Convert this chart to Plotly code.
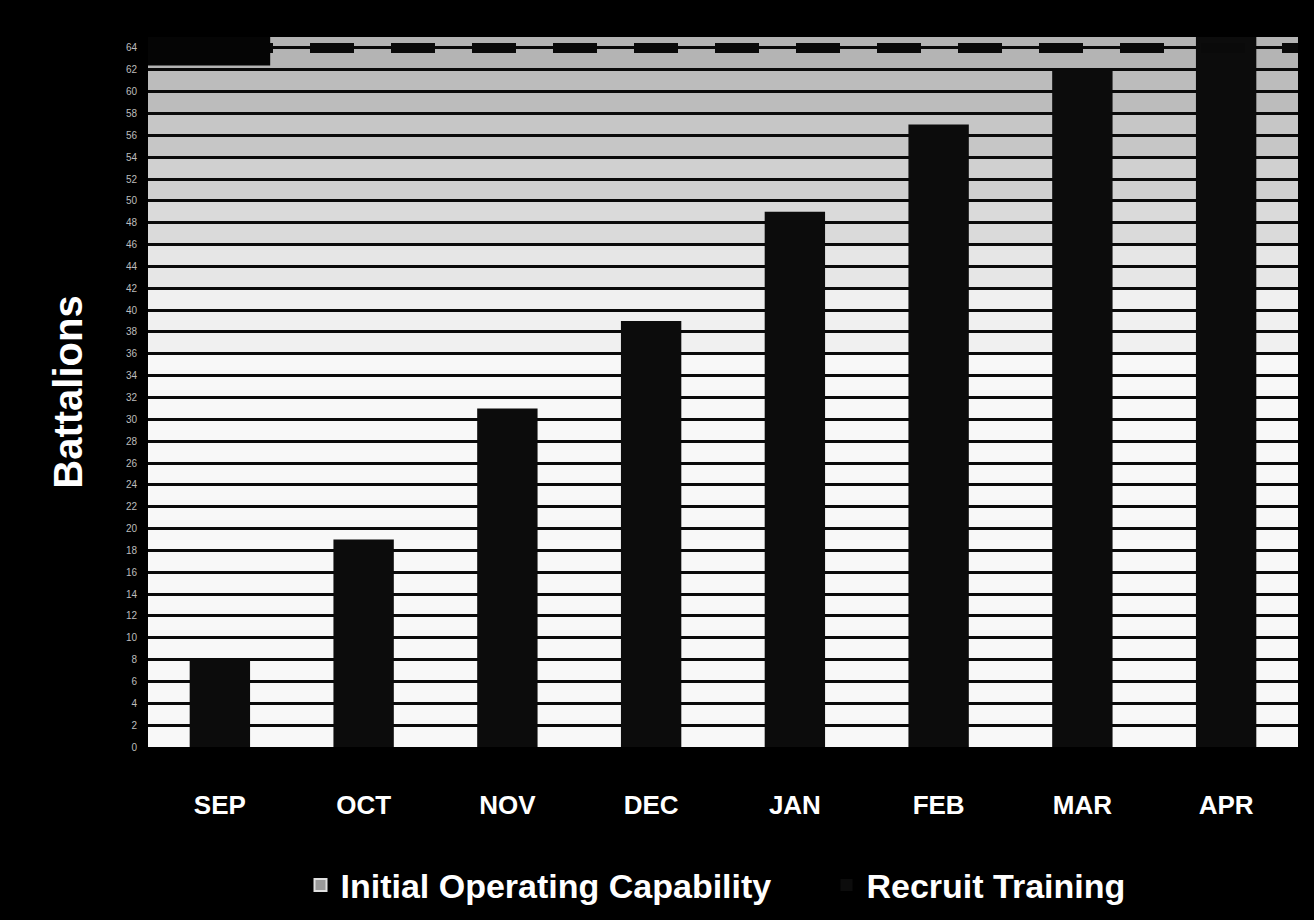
import plotly.graph_objects as go

# Battalions ready per month
months = ["SEP", "OCT", "NOV", "DEC", "JAN", "FEB", "MAR", "APR"]
recruit_training = [8, 19, 31, 39, 49, 57, 62, 66]

# Initial Operating Capability target level
ioc_level = 64

y_ticks = list(range(0, 65, 2))
y_max = 65

FONT = "Liberation Sans, Arial, sans-serif"

fig = go.Figure()

# legend entry for the IOC target (the line itself is a shape below)
fig.add_trace(go.Scatter(
    x=[None], y=[None], mode="markers", name="Initial Operating Capability",
    marker=dict(symbol="square", size=13, color="#9a9a9a",
                line=dict(color="#e0e0e0", width=1)),
    hoverinfo="skip",
))

fig.add_trace(go.Bar(
    x=months, y=recruit_training, name="Recruit Training",
    marker=dict(color="#0c0c0c", line=dict(width=0)),
    width=0.42,
))

shapes = []
# background tone: darker at the top, fading to white lower down
bands = [
    (62, 65, "#b4b4b4"),
    (58, 62, "#bcbcbc"),
    (54, 58, "#c6c6c6"),
    (50, 54, "#d0d0d0"),
    (46, 50, "#dadada"),
    (42, 46, "#e6e6e6"),
    (36, 42, "#f0f0f0"),
]
for lo, hi, col in bands:
    shapes.append(dict(type="rect", xref="x domain", yref="y",
                       x0=0, x1=1, y0=lo, y1=hi,
                       fillcolor=col, line=dict(width=0), layer="below"))

# IOC target line
shapes.append(dict(type="line", xref="x domain", yref="y",
                   x0=0, x1=1, y0=ioc_level, y1=ioc_level,
                   line=dict(color="#0a0a0a", width=10, dash="44px,37px"),
                   layer="above"))
# dark block in the upper-left corner
shapes.append(dict(type="rect", xref="x", yref="y",
                   x0=-0.5, x1=0.35, y0=62.4, y1=y_max,
                   fillcolor="#050505", line=dict(width=0), layer="above"))

fig.update_layout(
    width=1314, height=920,
    paper_bgcolor="#000000",
    plot_bgcolor="#f8f8f8",
    margin=dict(l=148, r=16, t=37, b=173, autoexpand=False),
    barmode="overlay",
    shapes=shapes,
    font=dict(family=FONT, color="#ffffff"),
    showlegend=True,
    legend=dict(
        orientation="h", x=0.59, xanchor="center", y=-0.154, yanchor="top",
        font=dict(family=FONT, size=34, color="#ffffff", weight="bold"),
        bgcolor="rgba(0,0,0,0)", itemwidth=30, itemsizing="constant",
        traceorder="normal", entrywidth=481, entrywidthmode="pixels",
    ),
    xaxis=dict(
        type="category", range=[-0.5, 7.5],
        showgrid=False, zeroline=False, showline=False, ticks="",
        tickfont=dict(family=FONT, size=26, color="#ffffff", weight="bold"),
        ticklabelstandoff=40,
    ),
    yaxis=dict(
        title=dict(text="Battalions", standoff=30,
                   font=dict(family=FONT, size=40, color="#ffffff", weight="bold")),
        range=[0, y_max],
        tickmode="array", tickvals=y_ticks, ticktext=[str(v) for v in y_ticks],
        tickfont=dict(family=FONT, size=10, color="#bdbdbd"),
        showgrid=True, gridcolor="#0a0a0a", gridwidth=3,
        zeroline=False, showline=False, ticks="",
        ticklabelstandoff=10,
    ),
)

fig.write_html("out.html")
